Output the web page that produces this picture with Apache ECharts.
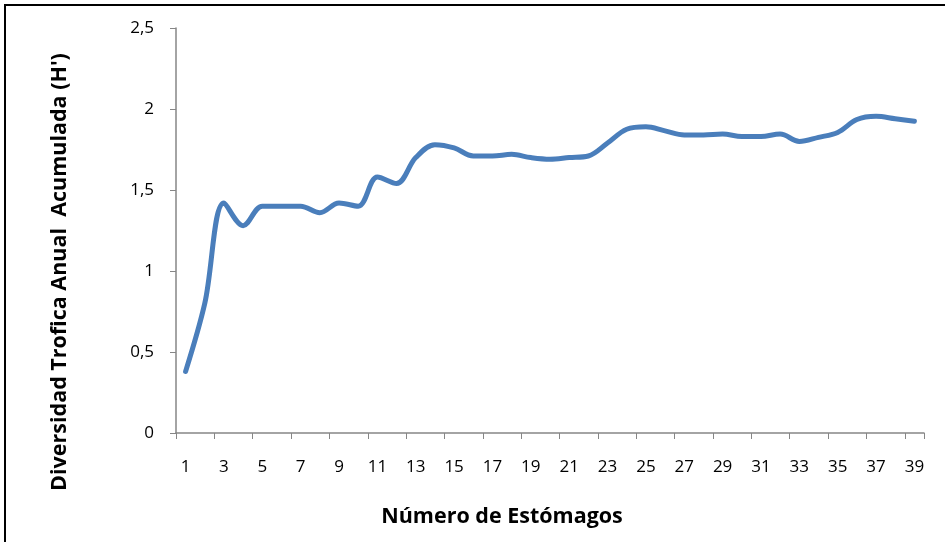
<!DOCTYPE html>
<html>
<head>
<meta charset="utf-8">
<script src="https://cdn.jsdelivr.net/npm/echarts@6/dist/echarts.min.js"></script>
<style>
  html, body { margin: 0; padding: 0; background: #fff; }
  #chart { width: 945px; height: 542px; }
</style>
</head>
<body>
<div id="chart"></div>
<script>
// number of stomachs 1..39
var estomagos = ['1','2','3','4','5','6','7','8','9','10','11','12','13','14','15','16','17','18','19','20',
  '21','22','23','24','25','26','27','28','29','30','31','32','33','34','35','36','37','38','39'];
// cumulative trophic diversity H'
var diversidad = [0.38, 0.80, 1.42, 1.28, 1.40, 1.40, 1.40, 1.36, 1.42, 1.40,
  1.58, 1.54, 1.70, 1.78, 1.76, 1.71, 1.71, 1.72, 1.70, 1.69,
  1.70, 1.71, 1.79, 1.875, 1.89, 1.865, 1.84, 1.84, 1.845, 1.83,
  1.83, 1.845, 1.80, 1.825, 1.855, 1.935, 1.955, 1.94, 1.925];
var yTicks = ['0', '0,5', '1', '1,5', '2', '2,5'];

var tickFont = "'Open Sans', 'Noto Sans', sans-serif";
var titleFont = "'Open Sans', 'Noto Sans', sans-serif";
var axisGrey = '#868686';

var myChart = echarts.init(document.getElementById('chart'));

var option = {
    animation: false,
    backgroundColor: '#ffffff',
    grid: {
        left: 176,
        right: 21,
        top: 28,
        bottom: 109
    },
    xAxis: {
        type: 'category',
        data: estomagos,
        boundaryGap: true,
        axisLine: {lineStyle: {color: axisGrey, width: 1.5}},
        axisTick: {show: true, length: 6, lineStyle: {color: axisGrey}},
        axisLabel: {
            interval: 1,
            margin: 26,
            color: '#000',
            fontSize: 17,
            fontFamily: tickFont
        },
        splitLine: {show: false}
    },
    yAxis: {
        type: 'value',
        min: 0,
        max: 2.5,
        interval: 0.5,
        axisLine: {show: true, lineStyle: {color: axisGrey, width: 1.5}},
        axisTick: {show: true, length: 6, lineStyle: {color: axisGrey}},
        axisLabel: {
            margin: 22,
            color: '#000',
            fontSize: 17,
            fontFamily: tickFont,
            formatter: function (v) {
                return yTicks[Math.round(v / 0.5)];
            }
        },
        splitLine: {show: false}
    },
    graphic: [
        {
            type: 'polyline',
            shape: {points: [[5, 542], [5, 5], [945, 5]]},
            style: {stroke: '#000', lineWidth: 2, fill: null}
        },
        {
            type: 'text',
            x: 60,
            y: 272,
            rotation: Math.PI / 2,
            style: {
                text: "Diversidad Trofica Anual  Acumulada (H')",
                font: "bold 21.5px " + titleFont,
                fill: '#000',
                align: 'center',
                verticalAlign: 'middle'
            }
        },
        {
            type: 'text',
            x: 502,
            y: 517,
            style: {
                text: 'Número de Estómagos',
                font: "bold 21.5px " + titleFont,
                fill: '#000',
                align: 'center',
                verticalAlign: 'middle'
            }
        }
    ],
    series: [{
        type: 'line',
        data: diversidad,
        smooth: 0.35,
        showSymbol: false,
        lineStyle: {color: '#4a7ebb', width: 5, cap: 'round'}
    }]
};

myChart.setOption(option);
</script>
</body>
</html>
